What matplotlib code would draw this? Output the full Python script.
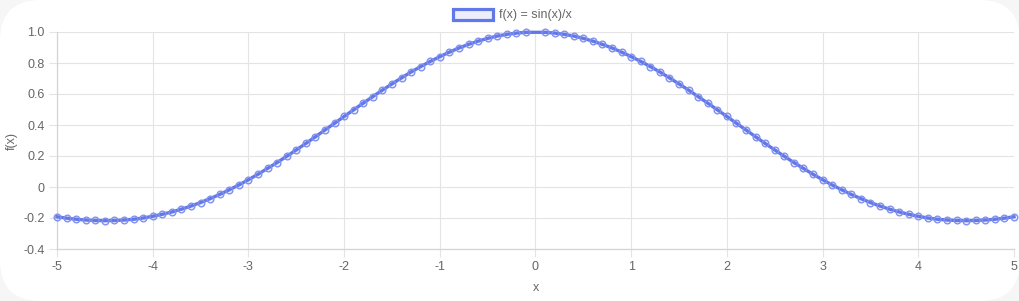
import numpy as np
import matplotlib.pyplot as plt
from matplotlib.patches import FancyBboxPatch, Rectangle

# sampled points of f(x) = sin(x)/x (x = 0 is undefined and skipped)
x_vals = [-5.0, -4.9, -4.8, -4.7, -4.6, -4.5, -4.4, -4.3, -4.2, -4.1,
          -4.0, -3.9, -3.8, -3.7, -3.6, -3.5, -3.4, -3.3, -3.2, -3.1,
          -3.0, -2.9, -2.8, -2.7, -2.6, -2.5, -2.4, -2.3, -2.2, -2.1,
          -2.0, -1.9, -1.8, -1.7, -1.6, -1.5, -1.4, -1.3, -1.2, -1.1,
          -1.0, -0.9, -0.8, -0.7, -0.6, -0.5, -0.4, -0.3, -0.2, -0.1,
          0.1, 0.2, 0.3, 0.4, 0.5, 0.6, 0.7, 0.8, 0.9, 1.0,
          1.1, 1.2, 1.3, 1.4, 1.5, 1.6, 1.7, 1.8, 1.9, 2.0,
          2.1, 2.2, 2.3, 2.4, 2.5, 2.6, 2.7, 2.8, 2.9, 3.0,
          3.1, 3.2, 3.3, 3.4, 3.5, 3.6, 3.7, 3.8, 3.9, 4.0,
          4.1, 4.2, 4.3, 4.4, 4.5, 4.6, 4.7, 4.8, 4.9, 5.0]
y_vals = [-0.192, -0.201, -0.208, -0.213, -0.216, -0.217, -0.216, -0.213, -0.208, -0.200,
          -0.189, -0.176, -0.161, -0.143, -0.123, -0.100, -0.075, -0.048, -0.018, 0.013,
          0.047, 0.082, 0.120, 0.158, 0.198, 0.239, 0.281, 0.324, 0.368, 0.411,
          0.455, 0.498, 0.541, 0.583, 0.625, 0.665, 0.704, 0.742, 0.777, 0.810,
          0.841, 0.870, 0.897, 0.920, 0.941, 0.959, 0.974, 0.985, 0.993, 0.998,
          0.998, 0.993, 0.985, 0.974, 0.959, 0.941, 0.920, 0.897, 0.870, 0.841,
          0.810, 0.777, 0.742, 0.704, 0.665, 0.625, 0.583, 0.541, 0.498, 0.455,
          0.411, 0.368, 0.324, 0.281, 0.239, 0.198, 0.158, 0.120, 0.082, 0.047,
          0.013, -0.018, -0.048, -0.075, -0.100, -0.123, -0.143, -0.161, -0.176, -0.189,
          -0.200, -0.208, -0.213, -0.216, -0.217, -0.216, -0.213, -0.208, -0.201, -0.192]
x_ticks = [-5, -4, -3, -2, -1, 0, 1, 2, 3, 4, 5]
y_ticks = [-0.4, -0.2, 0, 0.2, 0.4, 0.6, 0.8, 1.0]
y_ticklabels = ["-0.4", "-0.2", "0", "0.2", "0.4", "0.6", "0.8", "1.0"]
series_label = "f(x) = sin(x)/x"

line_col = "#6378e8"
marker_edge = "#8192ee"
fill_col = (0.39, 0.47, 0.91, 0.12)
grid_col = "#e4e4e4"
text_col = "#666666"

plt.rcParams["font.family"] = ["Liberation Sans", "DejaVu Sans"]

fig = plt.figure(figsize=(10.2, 3.01), dpi=100)
fig.patch.set_facecolor("#f6f6f7")
card = FancyBboxPatch((0, 0), 1, 1, boxstyle="round,pad=0,rounding_size=0.04",
                      transform=fig.transFigure, facecolor="white", edgecolor="none",
                      mutation_aspect=1020 / 301, zorder=-5)
fig.patches.append(card)

ax = fig.add_axes([57 / 1020, 1 - 249 / 301, (1014 - 57) / 1020, (249 - 32) / 301])
ax.set_zorder(2)
ax.set_facecolor("none")
ax.plot(x_vals, y_vals, color=line_col, linewidth=2.4, marker="o", markersize=4.8,
        markerfacecolor=fill_col, markeredgecolor=marker_edge, markeredgewidth=1.0,
        clip_on=False, zorder=3)

ax.set_xlim(-5, 5)
ax.set_ylim(-0.4, 1.0)
ax.set_xticks(x_ticks)
ax.set_xticklabels([str(t) for t in x_ticks])
ax.set_yticks(y_ticks)
ax.set_yticklabels(y_ticklabels)
ax.grid(True, color=grid_col, linewidth=0.8)
ax.set_axisbelow(True)
for side in ["top", "right"]:
    ax.spines[side].set_visible(False)
for side in ["left", "bottom"]:
    ax.spines[side].set_color("#d4d4d4")
    ax.spines[side].set_linewidth(0.9)
ax.tick_params(colors=grid_col, labelcolor=text_col, labelsize=9, length=6, width=0.8, pad=3)
ax.set_xlabel("x", color=text_col, fontsize=9, labelpad=6)
ax.set_ylabel("f(x)", color=text_col, fontsize=9, labelpad=4)

# legend drawn by hand at top centre
fig.patches.append(Rectangle((453 / 1020, 1 - 20 / 301), 40 / 1020, 11 / 301,
                             transform=fig.transFigure, facecolor=fill_col,
                             edgecolor=line_col, linewidth=2.3, zorder=3))
fig.text(499 / 1020, 1 - 15 / 301, series_label, color=text_col, fontsize=9,
         ha="left", va="center")

fig.savefig("out.png", dpi=100, facecolor=fig.get_facecolor())
